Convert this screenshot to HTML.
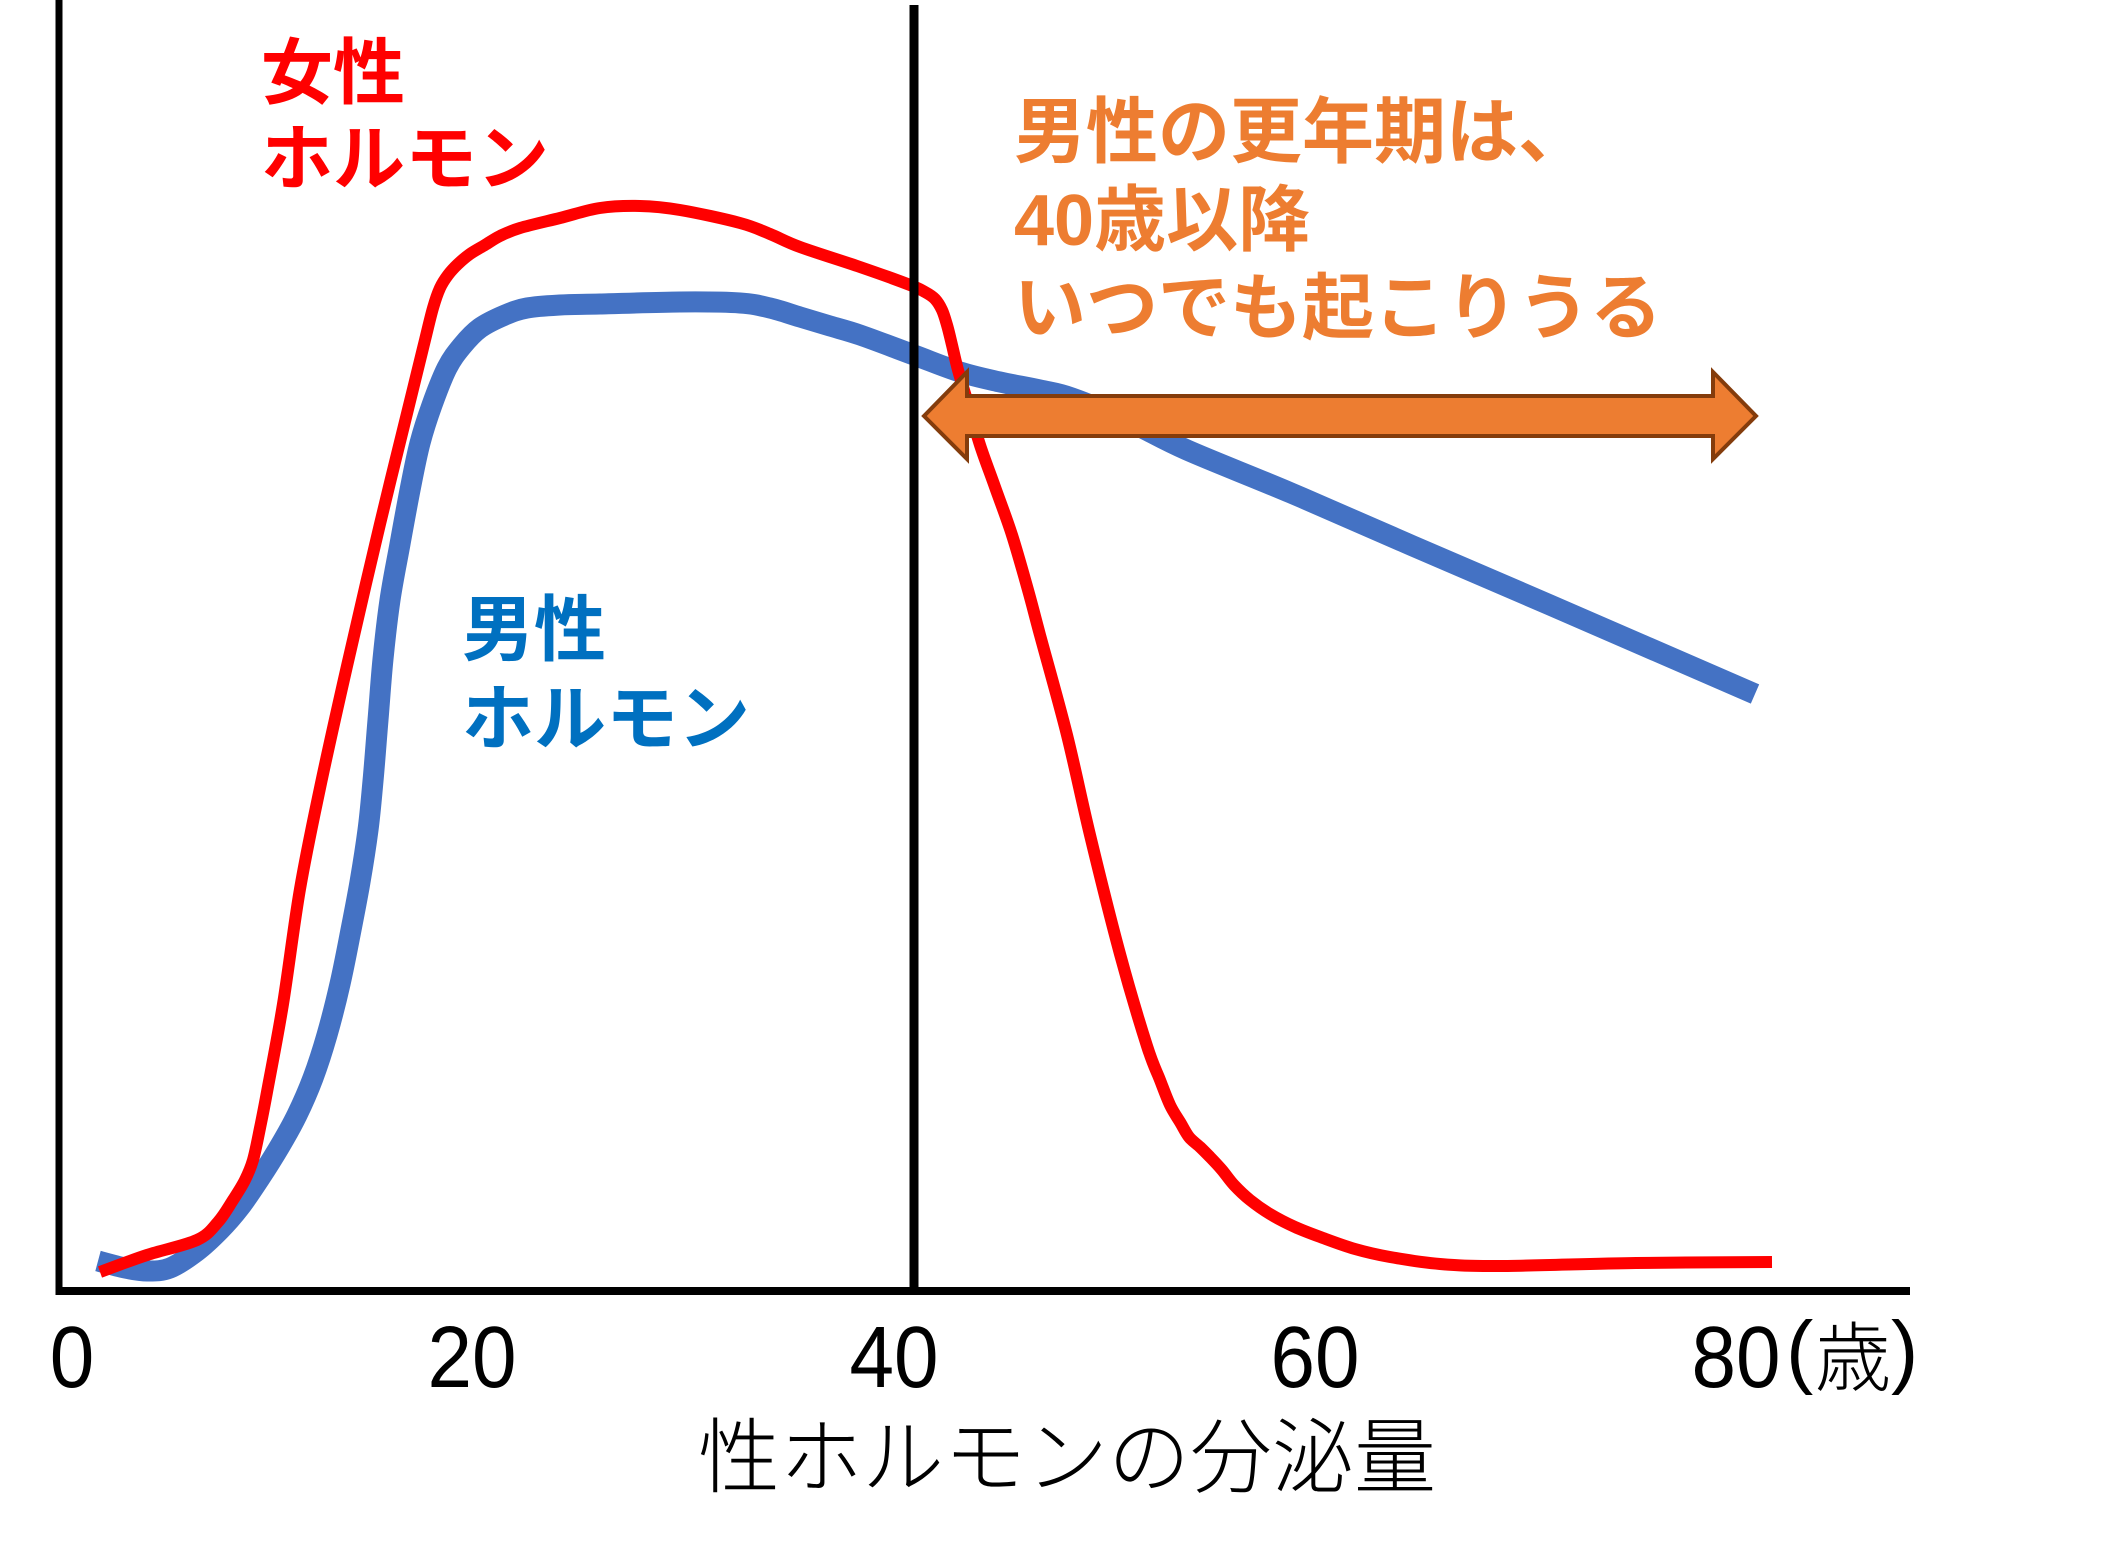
<!DOCTYPE html>
<html>
<head>
<meta charset="utf-8">
<style>
  html, body { margin: 0; padding: 0; background: #ffffff; }
  body { width: 2120px; height: 1560px; overflow: hidden; }
  svg { display: block; }
  .lab { font-family: "Liberation Sans", "Noto Sans CJK JP", sans-serif; font-weight: bold; font-size: 72px; }
  .ax { font-family: "Liberation Sans", "Noto Sans CJK JP", sans-serif; font-weight: 300; }
</style>
</head>
<body>
<svg id="chart" width="2120" height="1560" viewBox="0 0 2120 1560" xmlns="http://www.w3.org/2000/svg">
  <rect x="0" y="0" width="2120" height="1560" fill="#ffffff"/>

  <!-- Blue curve (male hormone) -->
  <polyline class="smooth" fill="none" stroke="#4472C4" stroke-width="21" stroke-linejoin="round" stroke-linecap="butt"
    points="98,1261 125,1268 147,1271 170,1268 197,1251 220,1230 240,1207 260,1178 280,1146 297,1115 313,1078 327,1035 340,984 350,935 360,882 368,830 373,781 378,720 383,659 390,600 400,544 410,490 420,443 432,405 447,368 462,346 480,328 505,315 527,308 560,305 600,304 680,302 740,303 770,308 800,317 830,326 860,335 914,355 960,372 1000,382 1040,390 1072,398 1130,422 1187,450 1291,493 1406,543 1550,605 1755,694"/>

  <!-- Red curve (female hormone) -->
  <polyline class="smooth" fill="none" stroke="#FF0000" stroke-width="12" stroke-linejoin="round" stroke-linecap="butt"
    points="100,1272 147,1255 197,1240 218,1222 233,1200 245,1180 253,1160 260,1128 267,1092 283,1004 300,889 320,788 347,666 380,524 413,389 425,340 433,308 440,288 448,275 458,264 470,254 485,245 500,236 520,228 560,218 600,208 640,206 680,210 740,223 770,234 800,247 860,267 910,285 925,292 935,299 942,310 947,325 952,345 958,370 967,400 980,445 995,487 1012,535 1028,590 1040,635 1067,735 1090,835 1120,954 1147,1046 1160,1080 1170,1105 1180,1122 1189,1137 1200,1147 1210,1157 1222,1170 1234,1185 1250,1200 1270,1214 1295,1227 1323,1238 1355,1249 1390,1257 1440,1264 1500,1266 1636,1263 1772,1262"/>

  <!-- Axes -->
  <line x1="59" y1="0" x2="59" y2="1295" stroke="#000" stroke-width="7"/>
  <line x1="56" y1="1291" x2="1910" y2="1291" stroke="#000" stroke-width="8"/>
  <line x1="914" y1="5" x2="914" y2="1291" stroke="#000" stroke-width="9"/>

  <!-- Double arrow -->
  <polygon points="924,416 967,372 967,396 1713,396 1713,372 1756,416 1713,459 1713,436 967,436 967,459"
    fill="#ED7D31" stroke="#843C0C" stroke-width="4" stroke-linejoin="miter"/>

  <!-- Labels -->
  <text class="lab" x="261" y="98" fill="#FF0000">女性</text>
  <text class="lab" x="261" y="184" fill="#FF0000">ホルモン</text>

  <text class="lab" x="462" y="655" fill="#0070C0">男性</text>
  <text class="lab" x="462" y="744" fill="#0070C0">ホルモン</text>

  <text class="lab" x="1014" y="157" fill="#ED7D31">男性の更年期は、</text>
  <text class="lab" x="1014" y="245" fill="#ED7D31">40歳以降</text>
  <text class="lab" x="1014" y="333" fill="#ED7D31">いつでも起こりうる</text>

  <!-- Tick labels -->
  <g class="ax" font-size="87" fill="#000">
    <text x="72" y="1387" text-anchor="middle" transform="translate(72 0) scale(0.92 1) translate(-72 0)">0</text>
    <text x="472" y="1387" text-anchor="middle" transform="translate(472 0) scale(0.92 1) translate(-472 0)">20</text>
    <text x="894" y="1387" text-anchor="middle" transform="translate(894 0) scale(0.92 1) translate(-894 0)">40</text>
    <text x="1315" y="1387" text-anchor="middle" transform="translate(1315 0) scale(0.92 1) translate(-1315 0)">60</text>
    <text x="1736" y="1387" text-anchor="middle" transform="translate(1736 0) scale(0.92 1) translate(-1736 0)">80</text>
  </g>
  <text class="ax" x="1786" y="1378" font-size="82" fill="#000">(</text>
  <text class="ax" x="1815" y="1385" font-size="76" fill="#000">歳</text>
  <text class="ax" x="1891" y="1378" font-size="82" fill="#000">)</text>

  <!-- Axis title -->
  <text class="ax" x="698" y="1486" font-size="82" fill="#000">性ホルモンの分泌量</text>
</svg>
<script>
(function(){
  var NS = "http://www.w3.org/2000/svg";
  var pls = document.querySelectorAll("polyline.smooth");
  for (var k = 0; k < pls.length; k++) {
    var pl = pls[k];
    var raw = pl.getAttribute("points").trim().split(/\s+/);
    var P = raw.map(function(s){ var a = s.split(","); return [parseFloat(a[0]), parseFloat(a[1])]; });
    var d = "M" + P[0][0] + "," + P[0][1];
    for (var i = 0; i < P.length - 1; i++) {
      var p0 = P[i > 0 ? i - 1 : i], p1 = P[i], p2 = P[i + 1], p3 = P[i + 2 < P.length ? i + 2 : i + 1];
      var c1x = p1[0] + (p2[0] - p0[0]) / 6, c1y = p1[1] + (p2[1] - p0[1]) / 6;
      var c2x = p2[0] - (p3[0] - p1[0]) / 6, c2y = p2[1] - (p3[1] - p1[1]) / 6;
      d += " C" + c1x.toFixed(1) + "," + c1y.toFixed(1) + " " + c2x.toFixed(1) + "," + c2y.toFixed(1) + " " + p2[0] + "," + p2[1];
    }
    var path = document.createElementNS(NS, "path");
    path.setAttribute("d", d);
    ["fill","stroke","stroke-width","stroke-linejoin","stroke-linecap"].forEach(function(a){
      path.setAttribute(a, pl.getAttribute(a));
    });
    pl.parentNode.replaceChild(path, pl);
  }
})();
</script>
</body>
</html>
